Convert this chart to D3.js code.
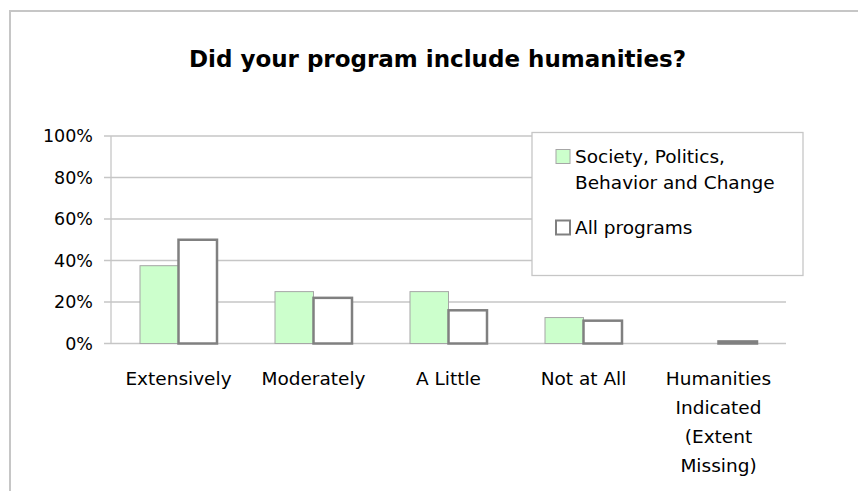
<!DOCTYPE html>
<html>
<head>
<meta charset="utf-8">
<script src="https://cdn.jsdelivr.net/npm/d3@7"></script>
<style>
  html, body { margin: 0; padding: 0; background: #fff; }
  svg { display: block; }
</style>
</head>
<body>
<svg id="chart" width="858" height="491"></svg>
<script>
const categories = [
  ["Extensively"],
  ["Moderately"],
  ["A Little"],
  ["Not at All"],
  ["Humanities", "Indicated", "(Extent", "Missing)"]
];
const seriesNames = ["Society, Politics, Behavior and Change", "All programs"];
const legendLines = [["Society, Politics,", "Behavior and Change"], ["All programs"]];
const societyValues = [0.375, 0.25, 0.25, 0.125, 0];
const allProgramsValues = [0.50, 0.22, 0.16, 0.11, 0.01];
const yTicks = [0, 0.2, 0.4, 0.6, 0.8, 1.0];
const title = "Did your program include humanities?";

const FONT = "'DejaVu Sans', Verdana, sans-serif";
const svg = d3.select("#chart");

// outer chart border
svg.append("rect").attr("x", 10).attr("y", 11).attr("width", 900).attr("height", 520)
  .attr("fill", "#fff").attr("stroke", "#c6c6c6").attr("stroke-width", 2);

svg.append("text").attr("x", 437.5).attr("y", 67).attr("text-anchor", "middle")
  .attr("font-family", FONT).attr("font-weight", "bold").attr("font-size", 23)
  .attr("fill", "#000").text(title);

const pLeft = 111, pRight = 786, pTop = 136, pBottom = 343.5;
const x = d3.scaleBand().domain(d3.range(categories.length)).range([pLeft, pRight]);
const y = d3.scaleLinear().domain([0, 1]).range([pBottom, pTop]);

// gridlines
svg.append("g").selectAll("line").data(yTicks).join("line")
  .attr("x1", pLeft - 7).attr("x2", pRight)
  .attr("y1", d => y(d)).attr("y2", d => y(d))
  .attr("stroke", "#c6c6c6").attr("stroke-width", 1.3);

// y axis line
svg.append("line").attr("x1", pLeft).attr("x2", pLeft).attr("y1", pTop).attr("y2", pBottom)
  .attr("stroke", "#c6c6c6").attr("stroke-width", 1.3);

// y labels
svg.append("g").selectAll("text").data(yTicks).join("text")
  .attr("x", 93).attr("y", d => y(d)).attr("dy", "0.36em").attr("text-anchor", "end")
  .attr("font-family", FONT).attr("font-size", 17.5).attr("fill", "#000")
  .text(d => d3.format(".0%")(d));

const barW = 38.5;
const g = svg.append("g");
g.selectAll("rect.s1").data(societyValues).join("rect").attr("class", "s1")
  .attr("x", (d, i) => x(i) + x.bandwidth() / 2 - barW)
  .attr("y", d => y(d)).attr("width", barW).attr("height", d => pBottom - y(d))
  .attr("fill", "#ccffcc").attr("stroke", "#a6a6a6").attr("stroke-width", 1)
  .attr("display", d => d > 0 ? null : "none");
g.selectAll("rect.s2").data(allProgramsValues).join("rect").attr("class", "s2")
  .attr("x", (d, i) => x(i) + x.bandwidth() / 2)
  .attr("y", d => y(d)).attr("width", barW).attr("height", d => pBottom - y(d))
  .attr("fill", "#fff").attr("stroke", "#808080").attr("stroke-width", 2.5);

// x labels
const xl = svg.append("g").selectAll("text").data(categories).join("text")
  .attr("x", (d, i) => x(i) + x.bandwidth() / 2).attr("y", 385)
  .attr("text-anchor", "middle").attr("font-family", FONT).attr("font-size", 18.5).attr("fill", "#000");
xl.selectAll("tspan").data(d => d).join("tspan")
  .attr("x", function () { return d3.select(this.parentNode).attr("x"); })
  .attr("dy", (d, j) => j === 0 ? 0 : 29).text(d => d);

// legend
svg.append("rect").attr("x", 532).attr("y", 132.5).attr("width", 271).attr("height", 143)
  .attr("fill", "#fff").attr("stroke", "#c6c6c6").attr("stroke-width", 1.3);
const lg = svg.append("g").selectAll("g").data(seriesNames).join("g");
lg.append("rect").attr("x", 556).attr("y", (d, i) => i === 0 ? 149.5 : 220.5)
  .attr("width", 14).attr("height", 14)
  .attr("fill", (d, i) => i === 0 ? "#ccffcc" : "#fff")
  .attr("stroke", (d, i) => i === 0 ? "#a6a6a6" : "#808080")
  .attr("stroke-width", (d, i) => i === 0 ? 1 : 2);
const lt = lg.append("text").attr("x", 575).attr("y", (d, i) => i === 0 ? 163 : 234)
  .attr("font-family", FONT).attr("font-size", 18.5).attr("fill", "#000");
lt.selectAll("tspan").data((d, i) => legendLines[i]).join("tspan")
  .attr("x", 575).attr("dy", (d, j) => j === 0 ? 0 : 26).text(d => d);
</script>
</body>
</html>
